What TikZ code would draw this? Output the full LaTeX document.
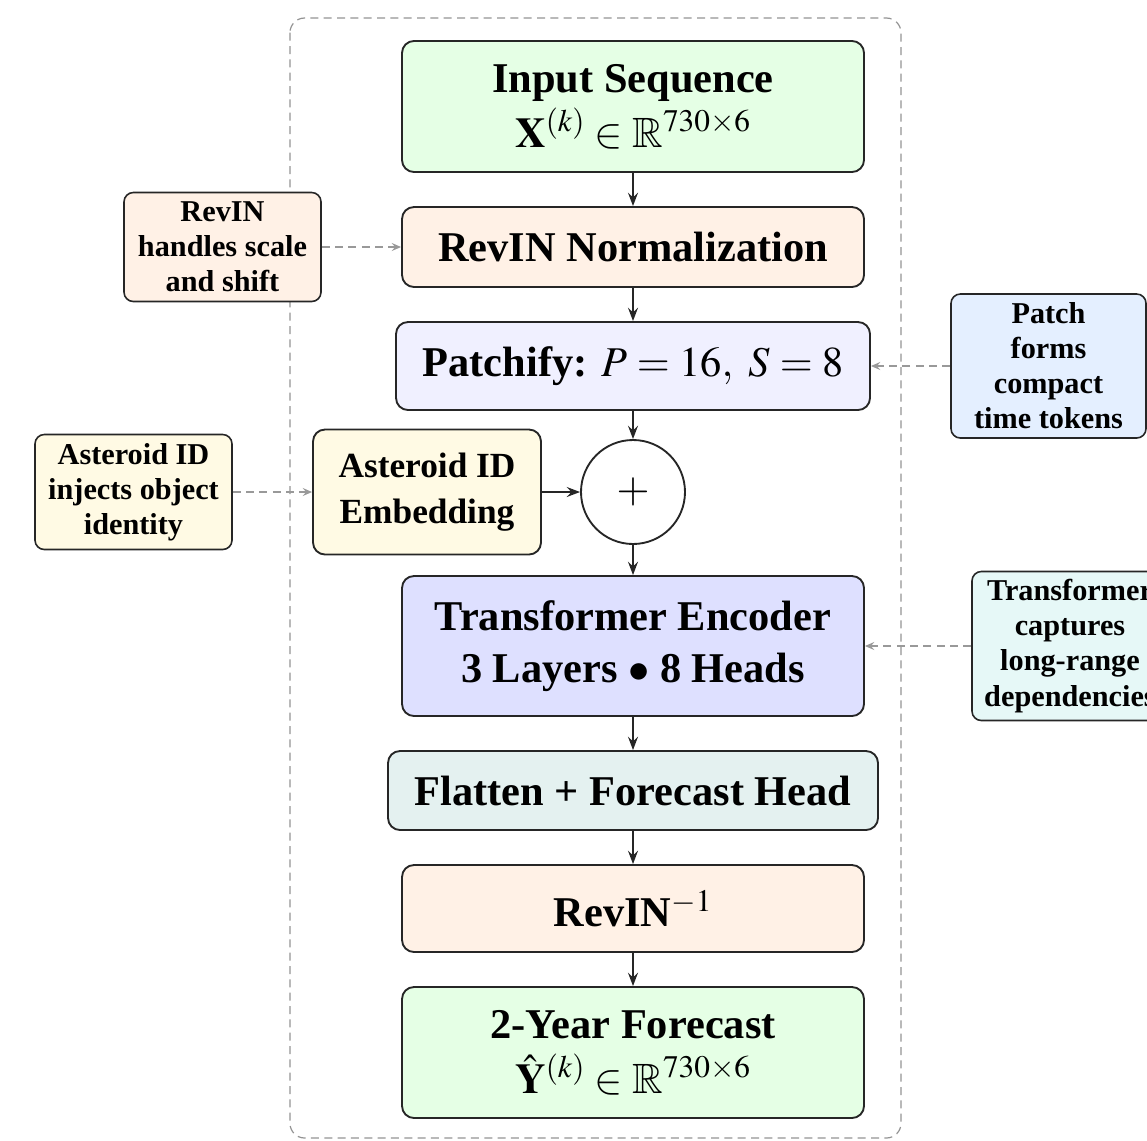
\documentclass[tikz,border=0pt]{standalone}
\usepackage{mathptmx}
\usepackage{amssymb}
\usepackage[no-math]{fontspec}
\setmainfont{Liberation Serif}
\usetikzlibrary{arrows.meta}
\definecolor{inputgreen}{RGB}{229,255,229}
\definecolor{revinorange}{RGB}{255,241,230}
\definecolor{patchblue}{RGB}{240,240,255}
\definecolor{embedyellow}{RGB}{255,250,228}
\definecolor{encoderblue}{RGB}{222,224,255}
\definecolor{headteal}{RGB}{228,241,240}
\definecolor{notepatch}{RGB}{228,239,255}
\definecolor{noteenc}{RGB}{230,248,247}
\begin{document}
\begin{tikzpicture}[x=0.75pt,y=0.75pt,yscale=-1,
  block/.style={draw=black!85, line width=1.4pt, rounded corners=9pt, align=center, inner sep=0pt, font=\bfseries\fontsize{31.8}{38}\selectfont},
  note/.style={draw=black!85, line width=1.2pt, rounded corners=7pt, align=center, inner sep=0pt, font=\bfseries\fontsize{22.7}{26.3}\selectfont},
  flow/.style={-{Stealth[length=10pt,width=7.5pt,inset=3.5pt]}, line width=1.3pt, black!85},
  hint/.style={-{Stealth[length=7pt,width=6pt,inset=2.5pt]}, line width=1pt, gray!80, dash pattern=on 6pt off 4pt},
  frame/.style={draw=gray!85, line width=0.9pt, rounded corners=11pt, dash pattern=on 6pt off 4pt}]
\useasboundingbox (0,0) rectangle (1147,1140);
\draw[frame] (290,18) rectangle (901,1138);

\node[block, fill=inputgreen, minimum width=346.5pt, minimum height=98.3pt] (input) at (633,106.5) {Input Sequence\\[3pt]$\mathbf{X}^{(k)} \in \mathbb{R}^{730\times 6}$};
\node[block, fill=revinorange, minimum width=346.5pt, minimum height=60pt] (revin) at (633,247) {RevIN Normalization};
\node[block, fill=patchblue, minimum width=355.5pt, minimum height=66pt] (patch) at (633,366) {Patchify: $P = 16,\ S = 8$};
\node[draw=black!85, line width=1.4pt, circle, fill=white, minimum size=78pt, inner sep=0pt, font=\fontsize{31.8}{38}\selectfont] (add) at (633,492) {$+$};
\node[block, fill=embedyellow, minimum width=171pt, minimum height=93.75pt, font=\bfseries\fontsize{26.5}{34}\selectfont] (embed) at (427,492) {Asteroid ID\\Embedding};
\node[block, fill=encoderblue, minimum width=346.5pt, minimum height=105pt, font=\bfseries\fontsize{31.8}{39}\selectfont] (encoder) at (633,646) {Transformer Encoder\\3 Layers $\bullet$ 8 Heads};
\node[block, fill=headteal, minimum width=367.5pt, minimum height=59.25pt] (head) at (633,790.5) {Flatten + Forecast Head};
\node[block, fill=revinorange, minimum width=346.5pt, minimum height=65.25pt] (revinv) at (633,908.5) {RevIN$^{-1}$};
\node[block, fill=inputgreen, minimum width=346.5pt, minimum height=98.25pt] (output) at (633,1052.5) {2-Year Forecast\\[3pt]$\hat{\mathbf{Y}}^{(k)} \in \mathbb{R}^{730\times 6}$};

\node[note, fill=revinorange, minimum width=147.75pt, minimum height=81.75pt] (noteRevin) at (222.5,247) {RevIN\\handles scale\\and shift};
\node[note, fill=embedyellow, minimum width=147.75pt, minimum height=86.25pt] (noteAst) at (133.5,492) {Asteroid ID\\injects object\\identity};
\node[note, fill=notepatch, minimum width=146.25pt, minimum height=108pt] (notePatch) at (1048.5,366) {Patch\\forms\\compact\\time tokens};
\node[note, fill=noteenc, minimum width=147pt, minimum height=111.75pt] (noteEnc) at (1070,646) {Transformer\\captures\\long-range\\dependencies};

\draw[flow] (input) -- (revin);
\draw[flow] (revin) -- (patch);
\draw[flow] (patch) -- (add);
\draw[flow] (embed) -- (add);
\draw[flow] (add) -- (encoder);
\draw[flow] (encoder) -- (head);
\draw[flow] (head) -- (revinv);
\draw[flow] (revinv) -- (output);
\draw[hint] (noteRevin) -- (revin);
\draw[hint] (noteAst) -- (embed);
\draw[hint] (notePatch) -- (patch);
\draw[hint] (noteEnc) -- (encoder);
\end{tikzpicture}
\end{document}
